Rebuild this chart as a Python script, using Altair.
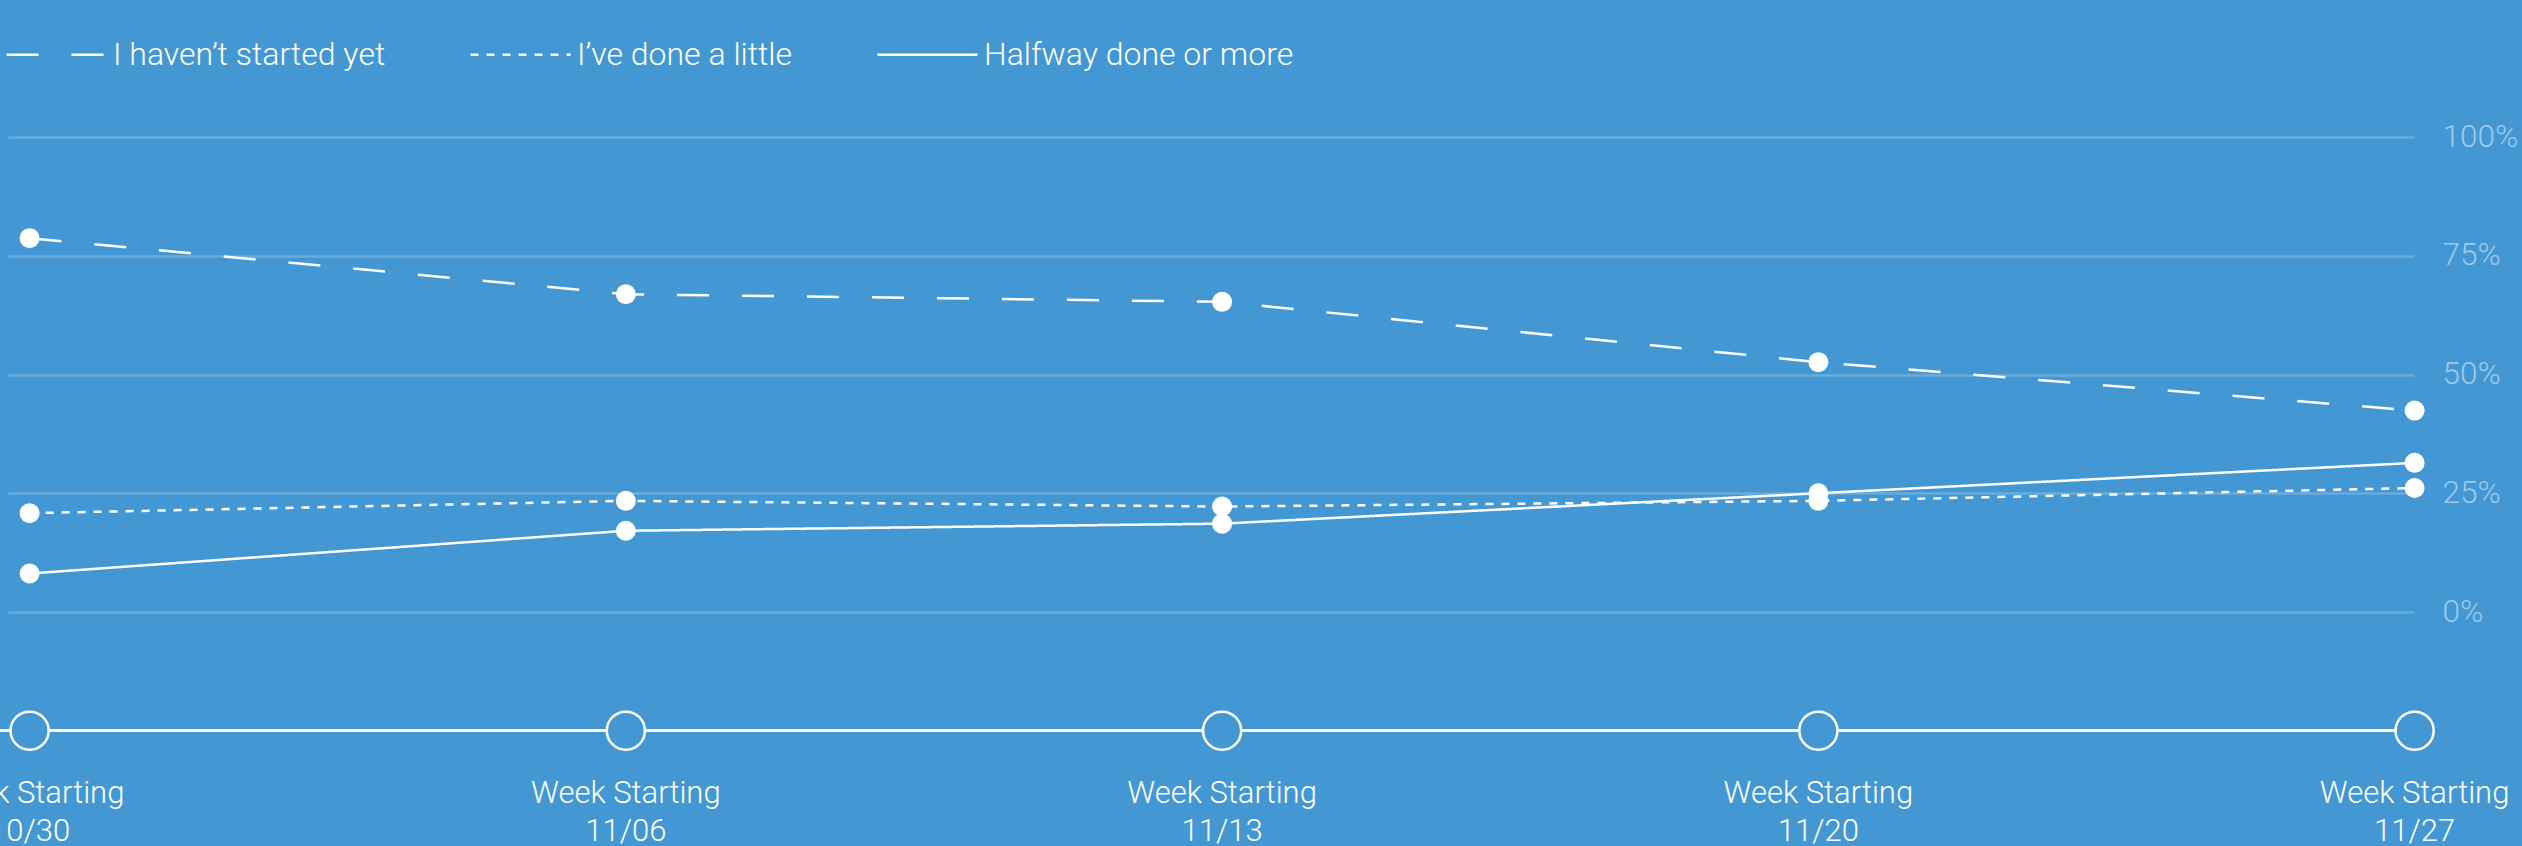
import altair as alt
import pandas as pd

# ---- data ----
weeks = ["10/30", "11/06", "11/13", "11/20", "11/27"]
series_names = ["I haven’t started yet", "I’ve done a little", "Halfway done or more"]
not_started = [78.7, 66.9, 65.3, 52.6, 42.4]
done_little = [20.8, 23.4, 22.2, 23.4, 26.1]
halfway = [8.1, 17.1, 18.6, 25.0, 31.4]
y_ticks = [0, 25, 50, 75, 100]

rows = []
for s, vals in zip(series_names, [not_started, done_little, halfway]):
    for i, (w, v) in enumerate(zip(weeks, vals)):
        rows.append({"i": i, "week": w, "series": s, "value": v})
df = pd.DataFrame(rows)
wk = pd.DataFrame({
    "i": list(range(len(weeks))),
    "week": weeks,
    "label": ["Week Starting\n" + w for w in weeks],
})

BG = "#4398d3"
FONT = "Roboto"
GRID = "#69addd"
LABEL = "#9dc9ea"

xscale = alt.Scale(domain=[-0.03623, 3.99899], nice=False, zero=False)
X = alt.X("i:Q", scale=xscale, axis=None)
Y = alt.Y(
    "value:Q",
    scale=alt.Scale(domain=[0, 100], nice=False),
    axis=alt.Axis(
        orient="right", values=y_ticks, labelExpr="datum.value + '%'", title=None,
        domain=False, ticks=False, labelPadding=28, grid=True, gridColor=GRID,
        gridWidth=2.5, labelFont=FONT, labelFontSize=31.5, labelFontWeight=300,
        labelColor=LABEL, labelBaseline="middle",
    ),
)

dash = alt.StrokeDash(
    "series:N",
    scale=alt.Scale(domain=series_names, range=[[32, 33], [8, 8], [1, 0]]),
    legend=alt.Legend(
        title=None, orient="none", legendX=-3, legendY=-134, direction="horizontal",
        symbolType="stroke", symbolSize=10000, symbolStrokeWidth=2.5,
        symbolStrokeColor="white", labelFont=FONT, labelFontSize=32,
        labelFontWeight=300, labelColor="white", labelOffset=5,
        columnPadding=79, labelLimit=1000,
    ),
)

lines = alt.Chart(df).mark_line(color="white", strokeWidth=2.5).encode(
    x=X, y=Y, strokeDash=dash, order="i:Q"
)
points = alt.Chart(df).mark_circle(size=400, color="white", opacity=1).encode(
    x=X, y=Y, detail="series:N"
)

timeline = alt.Chart(wk).mark_rule(color="white", strokeWidth=2.5).encode(
    x=alt.value(-8),
    x2=alt.value(2406.6),
    y=alt.value(593.7),
)
tl_circles = alt.Chart(wk).mark_point(
    shape="circle", filled=True, fill=BG, stroke="white", strokeWidth=2.5,
    size=1450, opacity=1,
).encode(x=X, y=alt.value(593.7))
tl_labels = alt.Chart(wk).mark_text(
    font=FONT, fontSize=31, fontWeight=300, color="white", lineBreak="\n",
    lineHeight=38.4, baseline="top", align="center",
).encode(x=X, y=alt.value(641.8), text="label:N")

chart = alt.layer(lines, points, timeline, tl_circles, tl_labels).properties(
    width=2406,
    height=475,
    autosize=alt.AutoSizeParams(type="none"),
    padding={"left": 8, "top": 137, "right": 108, "bottom": 234},
    background=BG,
).configure_view(stroke=None)

chart.save("out.html", embed_options={"renderer": "svg", "actions": False})
